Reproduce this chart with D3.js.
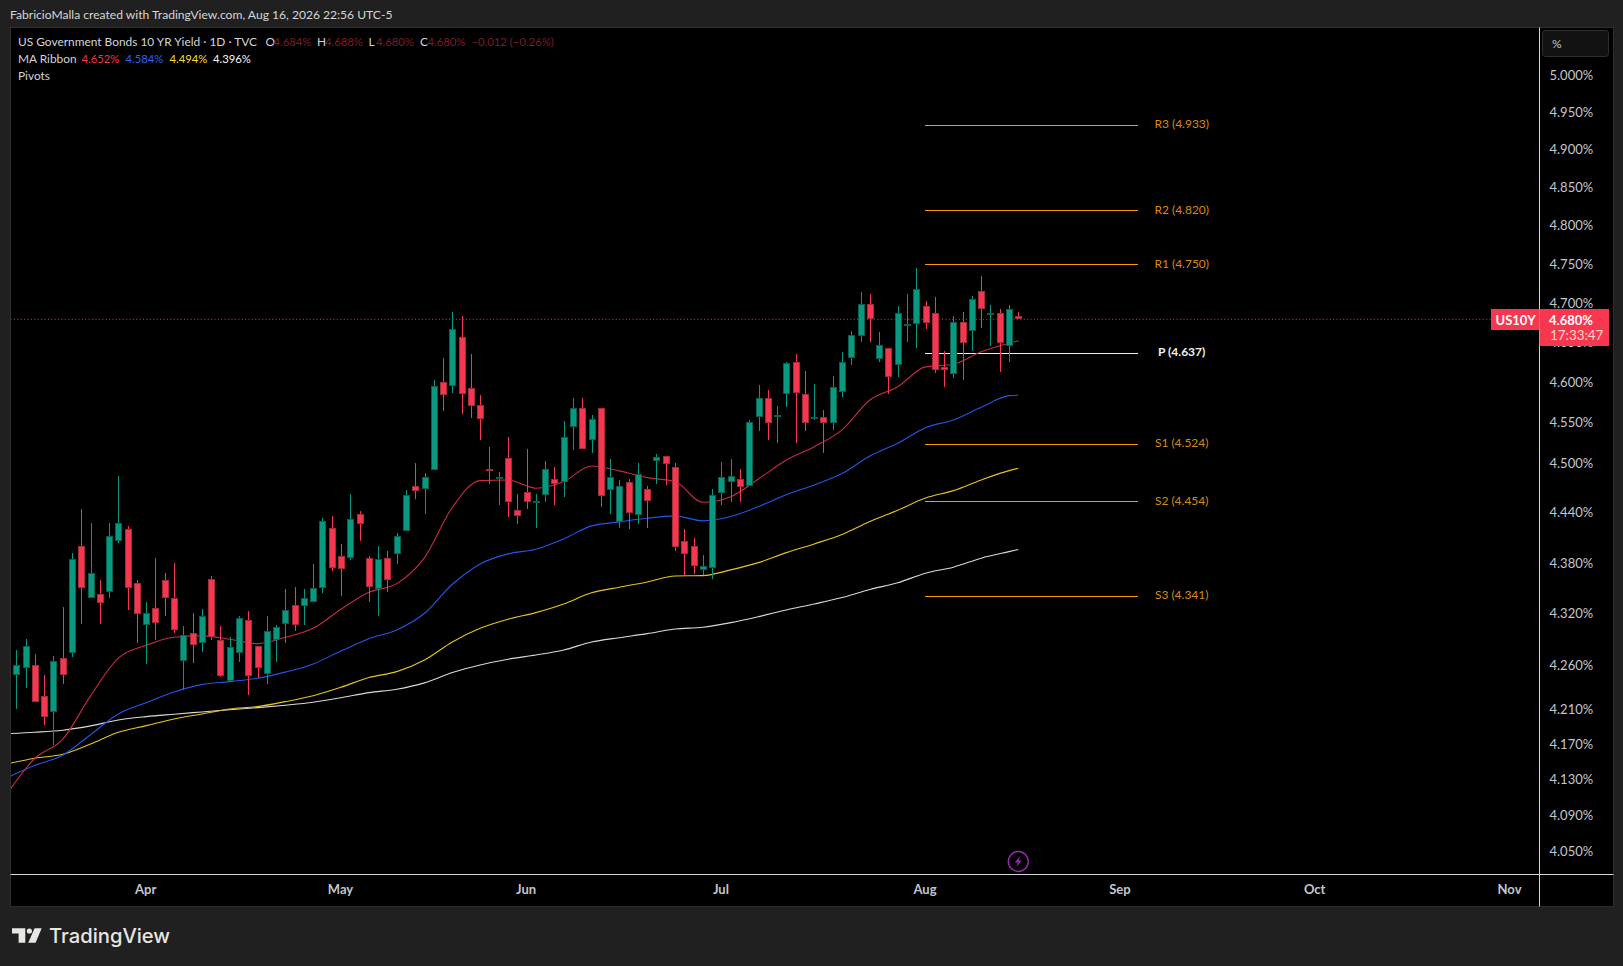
<html>

<head>
  <meta charset="UTF-8">
  <title>US10Y - TradingView</title>
  <style>
    html, body { margin: 0; padding: 0; background: #202020; overflow: hidden; }
    text { font-family: Lato, "Open Sans", sans-serif; }
    .axis path { display: none; }
    .axis line { display: none; }
  </style>
</head>

<body>
  <svg id="chart" width="1623" height="966"></svg>
  <script src="https://cdn.jsdelivr.net/npm/d3@7"></script>
  <script>
  // ---------------------------------------------------
  // Data
  // ---------------------------------------------------
  var firstBar = -1; // the first candle is cut by the left edge of the pane

  var opens = [4.138,
    4.249, 4.257, 4.261, 4.225, 4.206, 4.269, 4.275, 4.400, 4.339, 4.343,
    4.346, 4.406, 4.420, 4.356, 4.307, 4.327, 4.360, 4.339, 4.265, 4.297,
    4.286, 4.361, 4.290, 4.242, 4.274, 4.313, 4.282, 4.250, 4.290, 4.309,
    4.330, 4.330, 4.334, 4.350, 4.422, 4.388, 4.385, 4.438, 4.386, 4.350,
    4.386, 4.390, 4.419, 4.473, 4.469, 4.492, 4.601, 4.595, 4.657, 4.593,
    4.572, 4.493, 4.482, 4.506, 4.444, 4.465, 4.453, 4.462, 4.481, 4.477,
    4.544, 4.568, 4.528, 4.568, 4.467, 4.430, 4.477, 4.437, 4.469, 4.503,
    4.509, 4.495, 4.406, 4.400, 4.371, 4.374, 4.464, 4.477, 4.481, 4.473,
    4.557, 4.580, 4.557, 4.585, 4.625, 4.585, 4.556, 4.557, 4.549, 4.588,
    4.630, 4.659, 4.699, 4.630, 4.643, 4.621, 4.670, 4.673, 4.696, 4.687,
    4.619, 4.611, 4.676, 4.664, 4.716, 4.686, 4.687, 4.645, 4.684];

  var highs = [4.235,
    4.278, 4.291, 4.273, 4.249, 4.271, 4.328, 4.392, 4.445, 4.428, 4.360,
    4.428, 4.485, 4.424, 4.360, 4.334, 4.386, 4.368, 4.380, 4.306, 4.321,
    4.326, 4.364, 4.306, 4.293, 4.317, 4.323, 4.283, 4.318, 4.307, 4.349,
    4.352, 4.349, 4.379, 4.434, 4.436, 4.403, 4.463, 4.442, 4.388, 4.400,
    4.394, 4.416, 4.467, 4.501, 4.488, 4.603, 4.631, 4.688, 4.684, 4.636,
    4.584, 4.520, 4.490, 4.532, 4.463, 4.518, 4.463, 4.503, 4.496, 4.552,
    4.581, 4.581, 4.560, 4.568, 4.505, 4.480, 4.481, 4.501, 4.473, 4.512,
    4.509, 4.501, 4.421, 4.410, 4.390, 4.469, 4.502, 4.505, 4.493, 4.553,
    4.597, 4.591, 4.571, 4.626, 4.636, 4.614, 4.598, 4.566, 4.608, 4.638,
    4.665, 4.714, 4.712, 4.663, 4.643, 4.696, 4.712, 4.745, 4.702, 4.708,
    4.639, 4.684, 4.688, 4.709, 4.735, 4.698, 4.693, 4.698, 4.688];

  var lows = [4.130,
    4.210, 4.234, 4.218, 4.192, 4.169, 4.239, 4.270, 4.308, 4.339, 4.308,
    4.339, 4.404, 4.325, 4.286, 4.262, 4.290, 4.318, 4.297, 4.232, 4.263,
    4.276, 4.290, 4.247, 4.241, 4.264, 4.226, 4.245, 4.239, 4.264, 4.286,
    4.300, 4.307, 4.334, 4.345, 4.371, 4.341, 4.383, 4.406, 4.334, 4.317,
    4.346, 4.379, 4.418, 4.457, 4.438, 4.492, 4.564, 4.587, 4.561, 4.556,
    4.529, 4.475, 4.450, 4.435, 4.427, 4.445, 4.422, 4.453, 4.450, 4.459,
    4.516, 4.517, 4.513, 4.447, 4.438, 4.422, 4.421, 4.427, 4.422, 4.475,
    4.474, 4.394, 4.366, 4.367, 4.366, 4.361, 4.450, 4.453, 4.453, 4.473,
    4.540, 4.529, 4.525, 4.569, 4.525, 4.540, 4.553, 4.513, 4.541, 4.582,
    4.622, 4.651, 4.651, 4.626, 4.586, 4.607, 4.651, 4.643, 4.667, 4.612,
    4.594, 4.606, 4.603, 4.639, 4.668, 4.646, 4.613, 4.626, 4.680];

  var closes = [4.228,
    4.261, 4.283, 4.219, 4.201, 4.265, 4.249, 4.385, 4.350, 4.368, 4.332,
    4.412, 4.428, 4.350, 4.320, 4.321, 4.309, 4.339, 4.301, 4.295, 4.283,
    4.317, 4.293, 4.248, 4.281, 4.315, 4.248, 4.257, 4.300, 4.305, 4.325,
    4.307, 4.339, 4.350, 4.430, 4.374, 4.373, 4.432, 4.426, 4.352, 4.385,
    4.360, 4.412, 4.462, 4.467, 4.483, 4.596, 4.585, 4.667, 4.585, 4.571,
    4.555, 4.490, 4.483, 4.453, 4.437, 4.453, 4.454, 4.493, 4.475, 4.532,
    4.568, 4.517, 4.554, 4.460, 4.483, 4.473, 4.440, 4.487, 4.455, 4.508,
    4.499, 4.398, 4.390, 4.376, 4.376, 4.461, 4.483, 4.484, 4.471, 4.551,
    4.580, 4.549, 4.560, 4.624, 4.586, 4.549, 4.557, 4.549, 4.594, 4.625,
    4.659, 4.699, 4.680, 4.647, 4.606, 4.687, 4.673, 4.718, 4.675, 4.615,
    4.615, 4.676, 4.649, 4.705, 4.693, 4.687, 4.649, 4.692, 4.680];

  // MA Ribbon, read every third bar
  var maBars = [-1, 2, 5, 8, 11, 14, 17, 20, 23, 26, 29, 32, 35, 38, 41, 44, 47, 50, 53,
    56, 59, 62, 65, 68, 71, 74, 77, 80, 83, 86, 89, 92, 95, 98, 101, 104, 107, 108];

  var maRed = [4.114, 4.154, 4.1754, 4.2249, 4.2683, 4.2833, 4.2926, 4.2942, 4.2903, 4.2852, 4.2926,
    4.3031, 4.3253, 4.3453, 4.3555, 4.3864, 4.4467, 4.4790, 4.4798, 4.4697, 4.4778, 4.4968, 4.4908,
    4.4826, 4.4778, 4.4527, 4.4595, 4.4810, 4.5041, 4.5204, 4.5410, 4.5780, 4.5946, 4.6193, 4.6226,
    4.6384, 4.6491, 4.652];

  var maBlue = [4.132, 4.146, 4.1574, 4.1806, 4.2042, 4.2171, 4.2294, 4.2378, 4.2413, 4.2452, 4.2522,
    4.2617, 4.2766, 4.2910, 4.3012, 4.3207, 4.3548, 4.3789, 4.3908, 4.3963, 4.4087, 4.4243, 4.4291,
    4.4335, 4.4363, 4.4303, 4.4355, 4.4475, 4.4619, 4.4737, 4.4875, 4.5090, 4.5246, 4.5438, 4.5533,
    4.5690, 4.5834, 4.584];

  var maYellow = [4.1476, 4.154, 4.1585, 4.1700, 4.1834, 4.1909, 4.1985, 4.2042, 4.2099, 4.2126, 4.2183,
    4.2251, 4.2348, 4.2459, 4.2528, 4.2663, 4.2872, 4.3031, 4.3137, 4.3214, 4.3315, 4.3448, 4.3512,
    4.3575, 4.3646, 4.3650, 4.3718, 4.3804, 4.3923, 4.4027, 4.4139, 4.4295, 4.4431, 4.4578, 4.4668,
    4.4798, 4.4911, 4.494];

  var maWhite = [4.1818, 4.1834, 4.1857, 4.1906, 4.1974, 4.2012, 4.2039, 4.2065, 4.2091, 4.2114, 4.2142,
    4.2176, 4.2228, 4.2286, 4.2325, 4.2398, 4.2517, 4.2605, 4.2671, 4.2720, 4.2778, 4.2871, 4.2921,
    4.2968, 4.3023, 4.3043, 4.3097, 4.3167, 4.3245, 4.3315, 4.3391, 4.3486, 4.3565, 4.3679, 4.3750,
    4.3857, 4.3935, 4.396];

  // pivots
  var pivotNames = ["R3", "R2", "R1", "P", "S1", "S2", "S3"];
  var pivotValues = [4.933, 4.820, 4.750, 4.637, 4.524, 4.454, 4.341];

  // axes
  var priceTicks = [5.000, 4.950, 4.900, 4.850, 4.800, 4.750, 4.700, 4.650, 4.600, 4.550, 4.500,
    4.440, 4.380, 4.320, 4.260, 4.210, 4.170, 4.130, 4.090, 4.050];
  var monthBars = [14, 35, 55, 76, 98, 119, 140, 161];
  var monthLabels = ["Apr", "May", "Jun", "Jul", "Aug", "Sep", "Oct", "Nov"];

  var lastPrice = 4.680;

  // ---------------------------------------------------
  // Scales and frame
  // ---------------------------------------------------
  var green = "#089981", greenEdge = "#0b5f50";
  var red = "#f7374f", redEdge = "#a52a3a";
  var orange = "#ff9800";

  var paneLeft = 10.5, axisX = 1539.5, frameRight = 1613.5, paneTop = 27.5, axisY = 874.5, frameBottom = 906.5;

  var x = d3.scaleLinear().domain([firstBar, 108]).range([7.02, 1018.3]);
  var y = d3.scaleLog().domain([5.0, 4.05]).range([75, 851.7]);

  var svg = d3.select("#chart");

  svg.append("rect")
    .attr("x", paneLeft).attr("y", paneTop)
    .attr("width", frameRight - paneLeft).attr("height", frameBottom - paneTop)
    .attr("fill", "#000").attr("stroke", "#2e2e2e");

  svg.append("defs").append("clipPath").attr("id", "pane")
    .append("rect")
    .attr("x", paneLeft + 0.5).attr("y", paneTop)
    .attr("width", axisX - paneLeft - 0.5).attr("height", axisY - paneTop);

  svg.append("text")
    .attr("x", 10).attr("y", 19)
    .attr("fill", "#d6d6d6").attr("font-size", 12.1)
    .text("FabricioMalla created with TradingView.com, Aug 16, 2026 22:56 UTC-5");

  var plot = svg.append("g").attr("clip-path", "url(#pane)");

  // ---------------------------------------------------
  // Pivots
  // ---------------------------------------------------
  var pivots = pivotNames.map(function (d, i) { return { name: d, value: pivotValues[i] }; });

  plot.selectAll(".pivot").data(pivots).enter().append("line")
    .attr("class", "pivot")
    .attr("x1", 925).attr("x2", 1138)
    .attr("y1", function (d) { return Math.round(y(d.value)) + 0.5; })
    .attr("y2", function (d) { return Math.round(y(d.value)) + 0.5; })
    .attr("stroke", function (d) { return d.name == "P" ? "#f0f0f0" : orange; });

  plot.selectAll(".pivot-label").data(pivots).enter().append("text")
    .attr("class", "pivot-label")
    .attr("x", 1181.7)
    .attr("y", function (d) { return y(d.value) + 3.5; })
    .attr("text-anchor", "middle")
    .attr("font-size", 12)
    .attr("font-weight", function (d) { return d.name == "P" ? 700 : 400; })
    .attr("fill", function (d) { return d.name == "P" ? "#f0f0f0" : "#d98a14"; })
    .text(function (d) { return d.name + " (" + d.value.toFixed(3) + ")"; });

  // ---------------------------------------------------
  // Last price line, MA ribbon, candles
  // ---------------------------------------------------
  plot.append("line")
    .attr("x1", paneLeft).attr("x2", 1491)
    .attr("y1", y(lastPrice) + 0.5).attr("y2", y(lastPrice) + 0.5)
    .attr("stroke", red).attr("stroke-dasharray", "1,2.4");

  var maLine = d3.line()
    .curve(d3.curveMonotoneX)
    .x(function (d, i) { return x(maBars[i]); })
    .y(function (d) { return y(d); });

  // in the picture white is drawn first, red last, candles above all of them
  var ribbon = [
    { values: maWhite, color: "#d9d9d9" },
    { values: maYellow, color: "#e8c420" },
    { values: maBlue, color: "#2456e6" },
    { values: maRed, color: "#c82c40" }
  ];
  ribbon.forEach(function (r) {
    plot.append("path")
      .attr("d", maLine(r.values))
      .attr("fill", "none")
      .attr("stroke", r.color)
      .attr("stroke-width", 1.1);
  });

  var bars = opens.map(function (d, i) {
    return { bar: firstBar + i, o: d, h: highs[i], l: lows[i], c: closes[i] };
  });

  function barX(d) { return Math.round(x(d.bar)) + 0.5; }

  var candle = plot.selectAll(".candle").data(bars).enter().append("g")
    .attr("class", "candle")
    .attr("shape-rendering", "crispEdges");

  candle.append("line")
    .attr("x1", barX).attr("x2", barX)
    .attr("y1", function (d) { return y(d.h); })
    .attr("y2", function (d) { return y(d.l); })
    .attr("stroke", function (d) { return d.c >= d.o ? green : red; });

  candle.append("rect")
    .attr("x", function (d) { return barX(d) - 3; })
    .attr("width", 6)
    .attr("y", function (d) { return Math.round(y(Math.max(d.o, d.c))) + 0.5; })
    .attr("height", function (d) { return Math.max(1, Math.round(Math.abs(y(d.o) - y(d.c))) - 1); })
    .attr("fill", function (d) { return d.c >= d.o ? green : red; })
    .attr("stroke", function (d) { return d.c >= d.o ? greenEdge : redEdge; });

  // ---------------------------------------------------
  // Axes
  // ---------------------------------------------------
  var yAxis = d3.axisRight(y)
    .tickValues(priceTicks)
    .tickSize(0)
    .tickPadding(10)
    .tickFormat(function (d) { return d.toFixed(3) + "%"; });

  svg.append("g").attr("class", "axis")
    .attr("transform", "translate(" + axisX + ",0)")
    .call(yAxis)
    .call(function (g) {
      g.selectAll("text").attr("fill", "#c4c6cc").attr("font-size", 13).attr("font-family", "Lato");
    });

  var xAxis = d3.axisBottom(x)
    .tickValues(monthBars)
    .tickSize(0)
    .tickPadding(10)
    .tickFormat(function (d, i) { return monthLabels[i]; });

  svg.append("g").attr("class", "axis")
    .attr("transform", "translate(-1," + axisY + ")")
    .call(xAxis)
    .call(function (g) {
      g.selectAll("text").attr("fill", "#c4c6cc").attr("font-size", 13).attr("font-weight", 700).attr("font-family", "Lato");
    });

  svg.append("line")
    .attr("x1", axisX).attr("x2", axisX).attr("y1", paneTop).attr("y2", frameBottom)
    .attr("stroke", "#d4d4d4");
  svg.append("line")
    .attr("x1", paneLeft).attr("x2", frameRight).attr("y1", axisY).attr("y2", axisY)
    .attr("stroke", "#d4d4d4");

  // % button
  svg.append("rect")
    .attr("x", 1542.5).attr("y", 30.5).attr("width", 66).attr("height", 26).attr("rx", 3)
    .attr("fill", "#121212").attr("stroke", "#2e2e2e");
  svg.append("text")
    .attr("x", 1552).attr("y", 48)
    .attr("fill", "#c4c6cc").attr("font-size", 12)
    .text("%");

  // price tags
  svg.append("rect")
    .attr("x", 1491).attr("y", 309).attr("width", 48.5).attr("height", 21)
    .attr("fill", red);
  svg.append("rect")
    .attr("x", 1539.5).attr("y", 309).attr("width", 69.5).attr("height", 37)
    .attr("fill", red);
  svg.append("text")
    .attr("x", 1495.5).attr("y", 324.5)
    .attr("fill", "#fff").attr("font-size", 13).attr("font-weight", 700)
    .text("US10Y");
  svg.append("text")
    .attr("x", 1549).attr("y", 324.5)
    .attr("fill", "#fff").attr("font-size", 13).attr("font-weight", 700)
    .text(lastPrice.toFixed(3) + "%");
  svg.append("text")
    .attr("x", 1550).attr("y", 340)
    .attr("fill", "#ffd9c8").attr("font-size", 13.4)
    .text("17:33:47");

  // ---------------------------------------------------
  // Legend
  // ---------------------------------------------------
  var dimRed = "#7c1d28", legendGrey = "#d1d4dc";

  var legendItems = [
    { x: 18, y: 46, text: "US Government Bonds 10 YR Yield · 1D · TVC", fill: legendGrey },
    { x: 265.5, y: 46, text: "O", fill: legendGrey },
    { x: 273.5, y: 46, text: "4.684%", fill: dimRed },
    { x: 317, y: 46, text: "H", fill: legendGrey },
    { x: 325, y: 46, text: "4.688%", fill: dimRed },
    { x: 368.5, y: 46, text: "L", fill: legendGrey },
    { x: 376, y: 46, text: "4.680%", fill: dimRed },
    { x: 420, y: 46, text: "C", fill: legendGrey },
    { x: 427.5, y: 46, text: "4.680%", fill: dimRed },
    { x: 471.5, y: 46, text: "−0.012 (−0.26%)", fill: dimRed },
    { x: 18, y: 63, text: "MA Ribbon", fill: legendGrey },
    { x: 81.5, y: 63, text: "4.652%", fill: "#f23645" },
    { x: 125.5, y: 63, text: "4.584%", fill: "#2962ff" },
    { x: 169.5, y: 63, text: "4.494%", fill: "#ffd92e" },
    { x: 213, y: 63, text: "4.396%", fill: "#f5f5f5" },
    { x: 18, y: 80, text: "Pivots", fill: legendGrey }
  ];

  svg.selectAll(".legend").data(legendItems).enter().append("text")
    .attr("class", "legend")
    .attr("x", function (d) { return d.x; })
    .attr("y", function (d) { return d.y; })
    .attr("fill", function (d) { return d.fill; })
    .attr("font-size", function (d) { return d.fill == legendGrey ? 11.9 : 11.3; })
    .text(function (d) { return d.text; });

  // ---------------------------------------------------
  // Lightning mark under the last bar
  // ---------------------------------------------------
  var bolt = svg.append("g").attr("transform", "translate(" + x(108) + ",861.5)");
  bolt.append("circle").attr("r", 10).attr("fill", "none").attr("stroke", "#9c27b0").attr("stroke-width", 1.4);
  bolt.append("path").attr("d", "M1.8,-5.5 L-3.4,1 L-0.4,1 L-1.8,5.5 L3.4,-1 L0.4,-1 Z").attr("fill", "#9c27b0");

  // ---------------------------------------------------
  // Logo
  // ---------------------------------------------------
  var logo = svg.append("g").attr("fill", "#e6e6e4");
  logo.append("path").attr("d", "M12,928.3 H25.3 V942.7 H18.6 V933.6 H12 Z");
  logo.append("circle").attr("cx", 29.4).attr("cy", 931).attr("r", 2.6);
  logo.append("path").attr("d", "M34.6,928.3 H41.7 L35.6,942.7 H28.2 Z");
  logo.append("text")
    .attr("x", 49).attr("y", 943)
    .attr("font-size", 20.2).attr("font-weight", 500)
    .style("font-family", "Inter")
    .text("TradingView");
  </script>
</body>

</html>
